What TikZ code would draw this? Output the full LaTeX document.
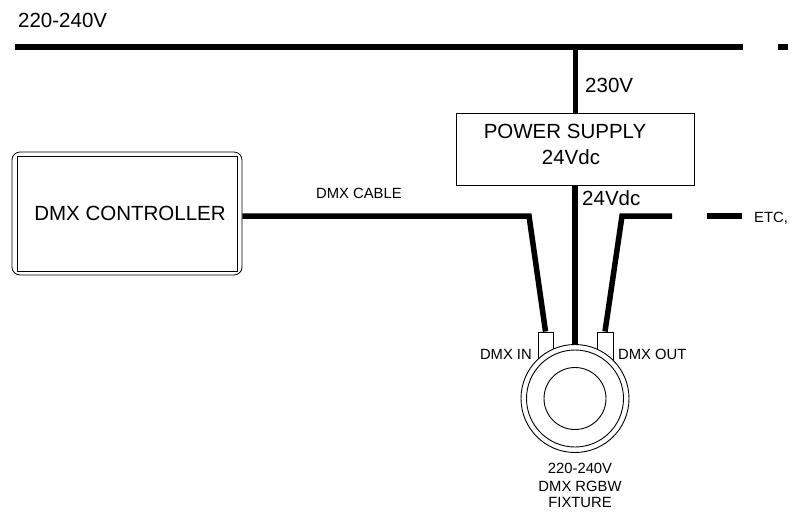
\documentclass[tikz,border=0pt]{standalone}
\usepackage{fontspec}
\setmainfont{Liberation Sans}
\begin{document}
\begin{tikzpicture}[x=1pt,y=-1pt,
  cable/.style={line width=5.5pt},
  bus/.style={line width=6pt},
  box/.style={draw, line width=1pt, inner sep=0pt},
  big/.style={font=\fontsize{20.5}{24}\selectfont, inner sep=0pt},
  small/.style={font=\fontsize{14.8}{17}\selectfont, inner sep=0pt}]
\useasboundingbox (0,0) rectangle (799,512);
% nodes
\node[box, minimum width=238pt, minimum height=72pt] (ps) at (575,149) {};
\node[draw, line width=0.8pt, rounded corners=8pt, minimum width=230pt, minimum height=123pt, inner sep=0pt] (ctrl) at (127,213.5) {};
\node[box, minimum width=220pt, minimum height=115pt] (ctrlin) at (127,213.5) {};
\node[box, fill=white, minimum width=15pt, minimum height=30pt] (din) at (545.5,347) {};
\node[box, fill=white, minimum width=16pt, minimum height=30pt] (dout) at (605,347) {};
% coordinates
\coordinate (b1) at (15,47);
\coordinate (b2) at (743,47);
\coordinate (b3) at (778,47);
\coordinate (b4) at (788,47);
\coordinate (lb) at (529,216);
\coordinate (rb) at (622,216);
\coordinate (re) at (672,216);
\coordinate (d1) at (707,216);
\coordinate (d2) at (742,216);
\coordinate (fc) at (575,398.5);
% bus
\draw[bus] (b1) -- (b2);
\draw[bus] (b3) -- (b4);
\draw[line width=5pt] (ps.north |- b1) -- (ps.north);
% cables
\draw[cable] (ctrl.east |- lb) -- (lb) -- (din.north);
\draw[cable] (dout.north) -- (rb) -- (re);
\draw[cable] (d1) -- (d2);
\draw[cable] (ps.south) -- (fc);
% fixture
\node[draw, line width=0.9pt, fill=white, circle, minimum size=108pt, inner sep=0pt] (fix) at (fc) {};
\node[draw, line width=0.9pt, circle, minimum size=97pt, inner sep=0pt] (fixmid) at (fc) {};
\node[draw, line width=0.9pt, circle, minimum size=62pt, inner sep=0pt] (fixin) at (fc) {};
% texts
\node[big, anchor=base west] (t1) at (18,27) {220-240V};
\node[big, anchor=base west] (t2) at (585,92) {230V};
\node[big, anchor=base] (t3) at (565,138) {POWER SUPPLY};
\node[big, anchor=base] (t4) at (571,164) {24Vdc};
\node[big, anchor=base west] (t5) at (582,205) {24Vdc};
\node[big, anchor=base] (t6) at (130,220) {DMX CONTROLLER};
\node[small, anchor=base west] (t7) at (316,198) {DMX CABLE};
\node[small, anchor=base west] (t8) at (754,222) {ETC,};
\node[small, anchor=base east] (t9) at (532,359) {DMX IN};
\node[small, anchor=base west] (t10) at (618,359) {DMX OUT};
\node[small, anchor=base] (t11) at (580,473) {220-240V};
\node[small, anchor=base] (t12) at (580,491) {DMX RGBW};
\node[small, anchor=base] (t13) at (580,507) {FIXTURE};
\end{tikzpicture}
\end{document}
